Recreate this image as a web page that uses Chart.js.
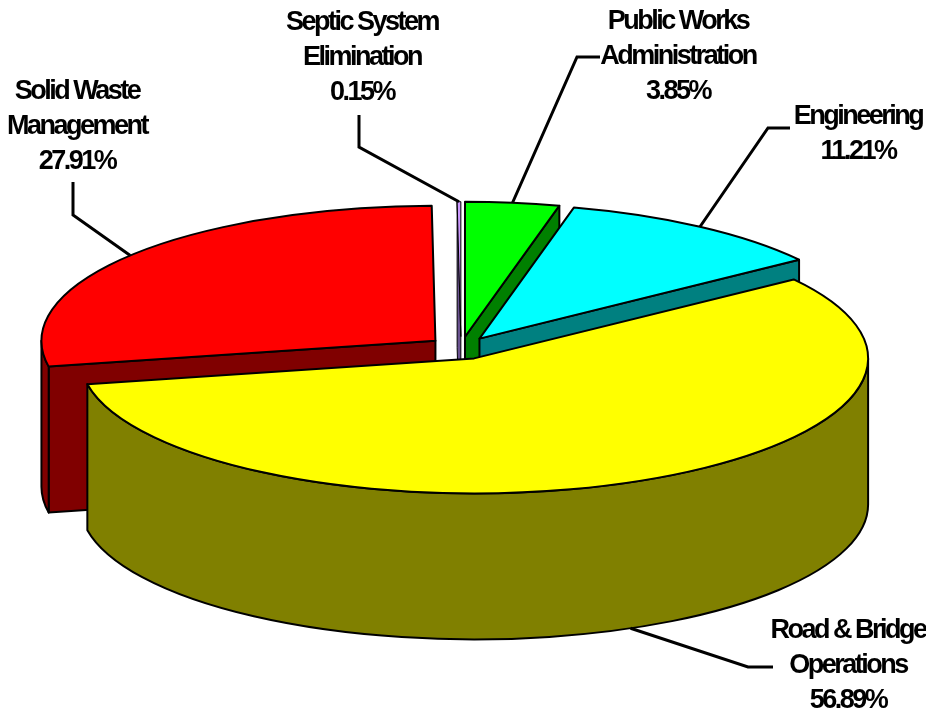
<!DOCTYPE html>
<html>
<head>
<meta charset="utf-8">
<script src="https://cdn.jsdelivr.net/npm/chart.js@4.4.1/dist/chart.umd.min.js"></script>
<style>
  html, body { margin: 0; padding: 0; background: #fff; }
</style>
</head>
<body>
<canvas id="budgetPie" width="926" height="717"></canvas>
<script>
// budget share per division, in the order Chart.js lays the slices (clockwise from 12 o'clock)
const divisions = [
  'Public Works Administration',
  'Engineering',
  'Road & Bridge Operations',
  'Solid Waste Management',
  'Septic System Elimination'
];
const shares = [3.85, 11.21, 56.89, 27.91, 0.15];
const labelLines = [
  ['Public Works', 'Administration'],
  ['Engineering'],
  ['Road & Bridge', 'Operations'],
  ['Solid Waste', 'Management'],
  ['Septic System', 'Elimination']
];
const topColors = ['#00FF00', '#00FFFF', '#FFFF00', '#FF0000', '#CC99FF'];
const sideColors = ['#008000', '#008080', '#808000', '#800000', '#6A5290'];

// where each label sits and how its leader line bends before reaching the slice
const labelLayout = [
  { x: 678, y: 22, start: [600, 57], knee: [577, 57] },
  { x: 858, y: 117, start: [790, 128], knee: [768, 128] },
  { x: 848, y: 631, start: [773, 667], knee: [748, 667] },
  { x: 77, y: 92, start: [73, 182], knee: [73, 215] },
  { x: 362, y: 23, start: [359, 115], knee: [359, 147] }
];

// tilted pie: horizontal radius, vertical radius, thickness
const RX = 394, RY = 135, DEPTH = 146;
const LINE_H = 35;

const pie3d = {
  id: 'pie3d',
  beforeDatasetsDraw() {
    // flat arcs are replaced by the extruded drawing below
    return false;
  },
  afterDraw(chart) {
    const ctx = chart.ctx;
    const meta = chart.getDatasetMeta(0);
    const ds = chart.data.datasets[0];

    const slices = meta.data.map((arc, i) => {
      const p = arc.getProps(['x', 'y', 'startAngle', 'endAngle'], true);
      const mid = (p.startAngle + p.endAngle) / 2;
      const off = arc.options.offset || 0;
      return {
        i: i,
        a0: p.startAngle,
        a1: p.endAngle,
        mid: mid,
        cx: p.x + off * Math.cos(mid),
        cy: p.y + off * (RY / RX) * Math.sin(mid)
      };
    });

    ctx.save();
    ctx.lineJoin = 'round';
    ctx.strokeStyle = '#000';
    ctx.lineWidth = 2;

    function fillStroke(color) {
      ctx.fillStyle = color;
      ctx.fill();
      ctx.stroke();
    }

    function cutFace(s, a, color) {
      const ex = s.cx + RX * Math.cos(a);
      const ey = s.cy + RY * Math.sin(a);
      ctx.beginPath();
      ctx.moveTo(s.cx, s.cy);
      ctx.lineTo(ex, ey);
      ctx.lineTo(ex, ey + DEPTH);
      ctx.lineTo(s.cx, s.cy + DEPTH);
      ctx.closePath();
      fillStroke(color);
    }

    // back slices first, front slices last
    const order = slices.slice().sort((a, b) => Math.sin(a.mid) - Math.sin(b.mid));

    order.forEach(s => {
      const side = ds.sideColors[s.i];
      const top = ds.backgroundColor[s.i];
      // very thin slices get a lighter outline so their colour still shows
      ctx.lineWidth = (s.a1 - s.a0) < 0.05 ? 1 : 2;

      if (Math.cos(s.a0) < 0) cutFace(s, s.a0, side);
      if (Math.cos(s.a1) > 0) cutFace(s, s.a1, side);

      // outer wall, only the half facing the viewer
      const from = Math.max(s.a0, 0);
      const to = Math.min(s.a1, Math.PI);
      if (to > from) {
        ctx.beginPath();
        ctx.ellipse(s.cx, s.cy, RX, RY, 0, from, to);
        ctx.ellipse(s.cx, s.cy + DEPTH, RX, RY, 0, to, from, true);
        ctx.closePath();
        fillStroke(side);
      }

      ctx.beginPath();
      ctx.moveTo(s.cx, s.cy);
      ctx.ellipse(s.cx, s.cy, RX, RY, 0, s.a0, s.a1);
      ctx.closePath();
      fillStroke(top);
    });

    // leader lines and labels
    ctx.lineWidth = 3;
    ctx.lineJoin = 'miter';
    ctx.fillStyle = '#000';
    ctx.font = 'bold 27px "Liberation Sans", Arial, sans-serif';
    ctx.letterSpacing = '-2.5px';
    ctx.textAlign = 'center';
    ctx.textBaseline = 'middle';

    slices.forEach(s => {
      const lay = labelLayout[s.i];
      const front = Math.sin(s.mid) > 0;
      const rx = s.cx + RX * Math.cos(s.mid);
      const ry = s.cy + RY * Math.sin(s.mid) + (front ? DEPTH : 0);
      ctx.beginPath();
      ctx.moveTo(lay.start[0], lay.start[1]);
      ctx.lineTo(lay.knee[0], lay.knee[1]);
      ctx.lineTo(rx, ry);
      ctx.stroke();

      const lines = labelLines[s.i].concat([shares[s.i].toFixed(2) + '%']);
      lines.forEach((t, k) => ctx.fillText(t, lay.x, lay.y + k * LINE_H));
    });

    ctx.restore();
  }
};

new Chart(document.getElementById('budgetPie'), {
  type: 'pie',
  data: {
    labels: divisions,
    datasets: [{
      data: shares,
      backgroundColor: topColors,
      sideColors: sideColors,
      borderWidth: 0,
      offset: 33
    }]
  },
  options: {
    responsive: false,
    animation: false,
    events: [],
    layout: { padding: { left: 0, right: 4, top: 0, bottom: 21 } },
    plugins: {
      legend: { display: false },
      tooltip: { enabled: false }
    }
  },
  plugins: [pie3d]
});
</script>
</body>
</html>
